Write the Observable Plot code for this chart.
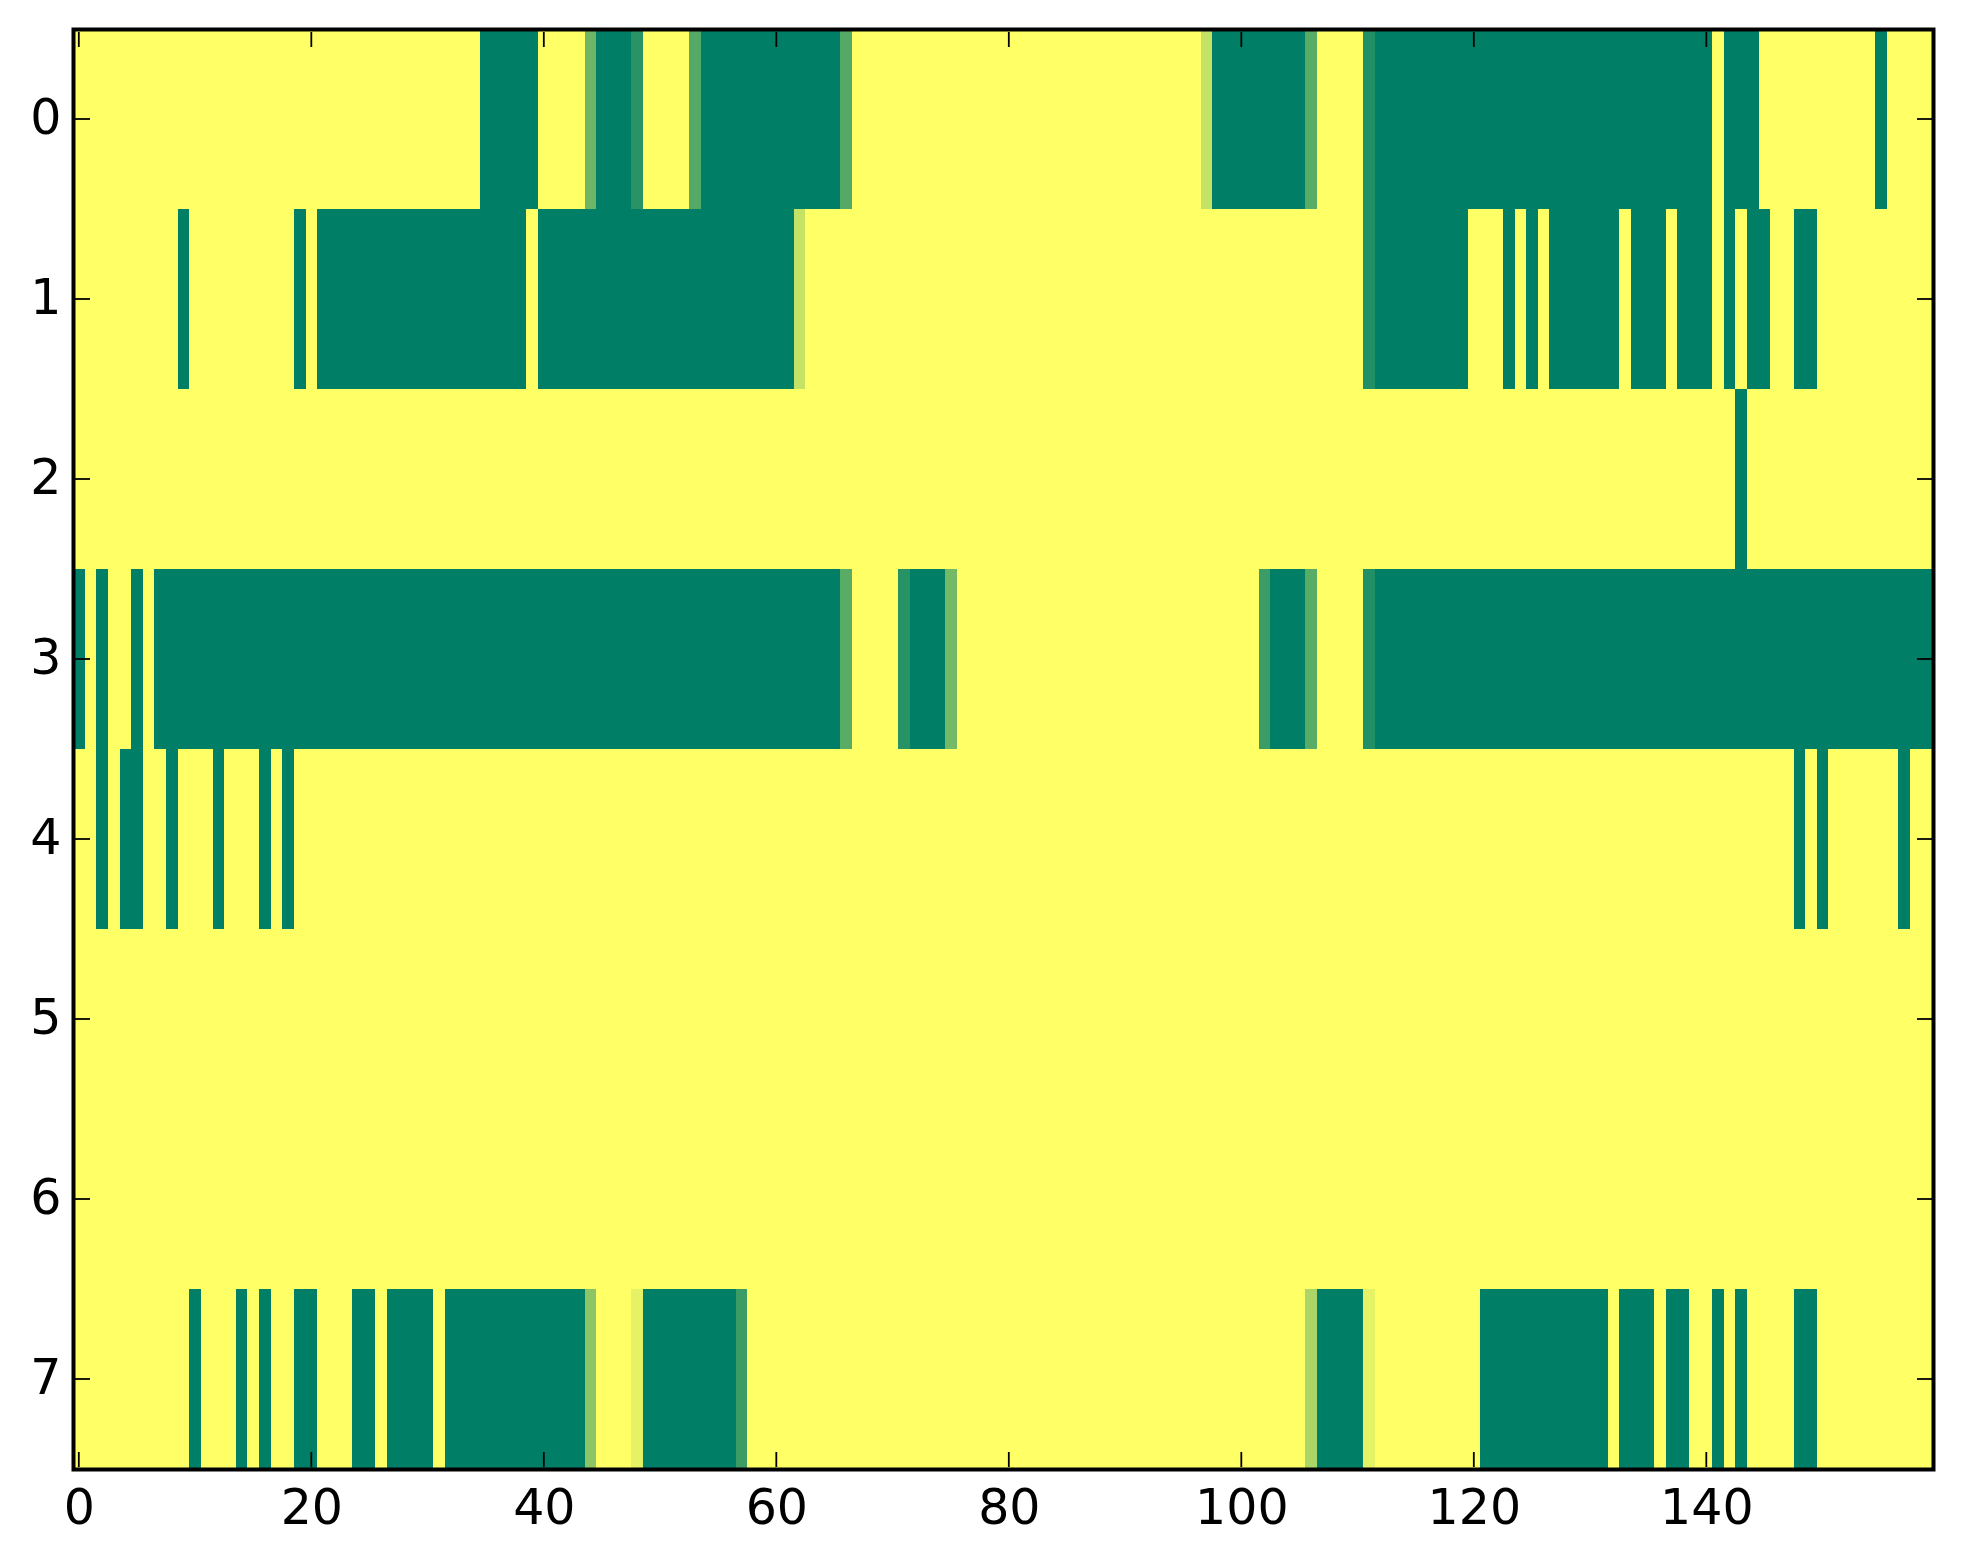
<!DOCTYPE html>
<html>
<head>
<meta charset="utf-8">
<style>html,body{margin:0;padding:0;background:#fff}svg{display:block}</style>
<script src="https://cdn.jsdelivr.net/npm/d3@7"></script>
<script src="https://cdn.jsdelivr.net/npm/@observablehq/plot@0.6"></script>
</head>
<body>
<script>
// Runs of non-zero cells per row: [first column, last column, intensity 0..1]
const row0 = [[35,39,1],[44,44,.57],[45,47,1],[48,48,.84],[53,53,.67],[54,65,1],[66,66,.67],[97,97,.23],[98,105,1],[106,106,.65],[111,111,.87],[112,140,1],[142,144,1],[155,155,1]];
const row1 = [[9,9,1],[19,19,1],[21,38,1],[40,61,1],[62,62,.23],[111,111,.87],[112,119,1],[123,123,1],[125,125,1],[127,132,1],[134,136,1],[138,140,1],[142,142,1],[144,145,1],[148,149,1]];
const row2 = [[143,143,1]];
const row3 = [[0,0,1],[2,2,1],[5,5,1],[7,65,1],[66,66,.65],[71,71,.85],[72,74,1],[75,75,.55],[102,102,.77],[103,105,1],[106,106,.65],[111,111,.87],[112,159,1]];
const row4 = [[2,2,1],[4,5,1],[8,8,1],[12,12,1],[16,16,1],[18,18,1],[148,148,1],[150,150,1],[157,157,1]];
const row5 = [];
const row6 = [];
const row7 = [[10,10,1],[14,14,1],[16,16,1],[19,20,1],[24,25,1],[27,30,1],[32,43,1],[44,44,.45],[48,48,.1],[49,56,1],[57,57,.77],[106,106,.33],[107,110,1],[111,111,.1],[121,131,1],[133,135,1],[137,138,1],[141,141,1],[143,143,1],[148,149,1]];
const rows = [row0,row1,row2,row3,row4,row5,row6,row7];
const columnCount = 160;
const xTicks = [0,20,40,60,80,100,120,140];
const yTicks = [0,1,2,3,4,5,6,7];

const cells = [];
rows.forEach((runs, r) => {
  const vals = new Array(columnCount).fill(0);
  for (const [a, b, v] of runs) for (let i = a; i <= b; i++) vals[i] = v;
  vals.forEach((v, c) => cells.push({c, r, v}));
});

const chart = Plot.plot({
  width: 1963, height: 1564,
  marginLeft: 73, marginRight: 30, marginTop: 29, marginBottom: 95,
  style: {fontFamily: "'DejaVu Sans'", background: "#fff", color: "#000", overflow: "visible"},
  x: {type: "linear", domain: [-0.5, 159.5], axis: null},
  y: {type: "linear", domain: [-0.5, 7.5], reverse: true, axis: null},
  color: {type: "linear", domain: [0, 1], range: ["#ffff66", "#007f66"]},
  marks: [
    Plot.rect(cells, {
      x1: d => d.c - 0.5, x2: d => d.c + 0.5,
      y1: d => d.r - 0.5, y2: d => d.r + 0.5,
      fill: "v", shapeRendering: "crispEdges", inset: 0
    }),
    Plot.axisX({anchor: "bottom", ticks: xTicks, tickSize: -15, strokeWidth: 1.8, dx: -0.5, dy: -2, text: null, label: null}),
    Plot.axisX({anchor: "top", ticks: xTicks, tickSize: -15, strokeWidth: 1.8, dx: -0.5, dy: 2, text: null, label: null}),
    Plot.axisY({anchor: "left", ticks: yTicks, tickSize: -15, strokeWidth: 1.8, dy: -0.5, dx: 2, text: null, label: null}),
    Plot.axisY({anchor: "right", ticks: yTicks, tickSize: -15, strokeWidth: 1.8, dy: -0.5, dx: -2, text: null, label: null}),
    Plot.axisX({anchor: "bottom", ticks: xTicks, tickSize: 0, tickPadding: 20, fontSize: 49, tickFormat: d => String(d), label: null, lineAnchor: "top", fill: "#000"}),
    Plot.axisY({anchor: "left", ticks: yTicks, tickSize: 0, tickPadding: 12, fontSize: 49, dy: -1.5, tickFormat: d => String(d), label: null, fill: "#000"}),
    Plot.frame({stroke: "#000", strokeWidth: 4})
  ]
});
document.body.appendChild(chart);
</script>
</body>
</html>
